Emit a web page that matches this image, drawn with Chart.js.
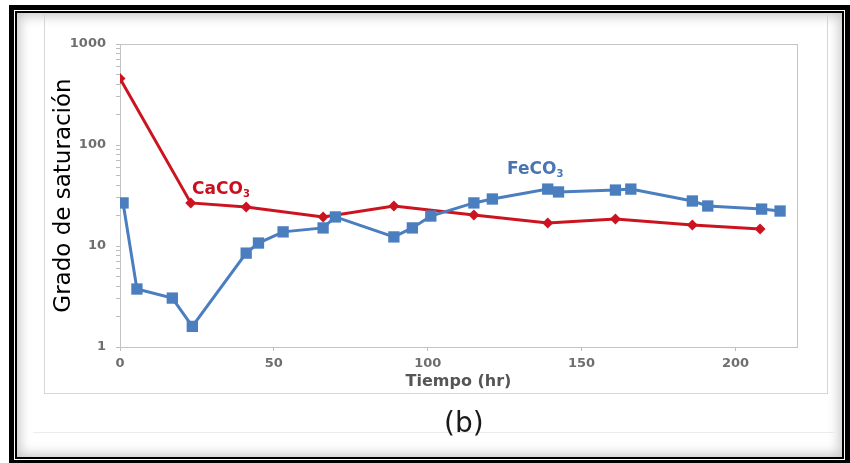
<!DOCTYPE html>
<html>
<head>
<meta charset="utf-8">
<script src="https://cdn.jsdelivr.net/npm/chart.js@4/dist/chart.umd.min.js"></script>
<style>
  html, body { margin:0; padding:0; background:#fff; width:850px; height:463px; overflow:hidden; position:relative; }
  #outer { position:absolute; left:9px; top:5px; width:841px; height:460px; box-sizing:border-box; border:5px solid #000; }
  #inner { position:absolute; left:15px; top:11px; width:829px; height:448px; box-sizing:border-box; border:2px solid #000;
           box-shadow: inset 0 0 12px 3px rgba(0,0,0,0.22); background:#fff; }
  #frame { position:absolute; left:44px; top:13px; width:784px; height:381px; box-sizing:border-box; border:1px solid #d6d6d6; }
  #hline { position:absolute; left:33px; top:432px; width:802px; height:1px; background:#ececec; }
  #ytbg { position:absolute; left:49px; top:58px; width:24px; height:256px; background:#fff; }
  canvas { position:absolute; left:0; top:0; }
  .ann { position:absolute; font-family:'DejaVu Sans'; font-weight:bold; font-size:17px; line-height:1; white-space:nowrap; }
  .ann sub { font-size:10px; vertical-align:-3px; line-height:0; }
  #ca { left:192px; top:180px; color:#c8101e; }
  #fe { left:507px; top:160px; color:#4a74b2; }
  #lab { position:absolute; left:444px; top:409px; font-family:'DejaVu Sans'; font-size:28px; line-height:1; color:#1a1a1a; }
</style>
</head>
<body>
<div id="outer"></div>
<div id="inner"></div>
<div id="frame"></div>
<div id="hline"></div>
<div id="ytbg"></div>
<canvas id="c" width="850" height="463"></canvas>
<div class="ann" id="ca">CaCO<sub>3</sub></div>
<div class="ann" id="fe">FeCO<sub>3</sub></div>
<div id="lab">(b)</div>
<script>
// ---- data ----
const timeCaCO3 = [0, 23, 41, 66, 89, 115, 139, 161, 186, 208];
const satCaCO3  = [455, 26.7, 24.3, 19.4, 24.9, 20.3, 16.9, 18.5, 16.1, 14.7];
const timeFeCO3 = [1, 5.5, 17, 23.5, 41, 45, 53, 66, 70, 89, 95, 101, 115, 121, 139, 142.5, 161, 166, 186, 191, 208.5, 214.5];
const satFeCO3  = [26.7, 3.75, 3.05, 1.6, 8.5, 10.7, 13.8, 15.1, 19.4, 12.3, 15.1, 19.8, 26.7, 29.2, 36.6, 34.3, 35.8, 36.6, 27.9, 24.9, 23.2, 22.2];
const xTickValues = [0, 50, 100, 150, 200];
const yTickLabels = [1, 10, 100, 1000];
const yMinorSteps = [2, 3, 4, 5, 6, 7, 8, 9];

const toPts = (xs, ys) => xs.map((x, i) => ({ x: x, y: ys[i] }));

const plotFrame = {
  id: 'plotFrame',
  beforeDatasetsDraw(chart) {
    const { ctx, chartArea: a } = chart;
    ctx.save();
    ctx.strokeStyle = '#c4c4c4';
    ctx.lineWidth = 1;
    ctx.strokeRect(Math.round(a.left) + 0.5, Math.round(a.top) + 0.5, Math.round(a.right - a.left), Math.round(a.bottom - a.top));
    ctx.restore();
  }
};

const tickFont = { family: 'DejaVu Sans', size: 13, weight: 'bold' };

new Chart(document.getElementById('c'), {
  type: 'line',
  data: {
    datasets: [
      {
        label: 'FeCO3',
        data: toPts(timeFeCO3, satFeCO3),
        borderColor: '#4a7ebf',
        backgroundColor: '#4a7ebf',
        borderWidth: 3,
        pointStyle: 'rect',
        pointRadius: 8,
        pointBorderWidth: 0,
        tension: 0,
        order: 1
      },
      {
        label: 'CaCO3',
        data: toPts(timeCaCO3, satCaCO3),
        borderColor: '#cc1420',
        backgroundColor: '#cc1420',
        borderWidth: 3,
        pointStyle: 'rectRot',
        pointRadius: 5.5,
        pointBorderWidth: 0,
        tension: 0,
        order: 2
      }
    ]
  },
  options: {
    responsive: false,
    animation: false,
    layout: { padding: { left: 50, top: 44, right: 53, bottom: 71.4 } },
    plugins: { legend: { display: false }, tooltip: { enabled: false } },
    scales: {
      x: {
        type: 'linear', min: 0, max: 220,
        afterFit(s) { s.height = 44.6; },
        afterBuildTicks(s) { s.ticks = xTickValues.map(v => ({ value: v })); },
        ticks: { padding: 5, color: '#6e6e6e', font: tickFont, autoSkip: false, maxRotation: 0 },
        grid: { drawOnChartArea: false, drawTicks: true, tickLength: 4, color: '#bdbdbd' },
        border: { display: false },
        title: { display: true, text: 'Tiempo (hr)', color: '#555', font: { family: 'DejaVu Sans', size: 16, weight: 'bold' }, padding: { top: 0, bottom: 0 } }
      },
      y: {
        type: 'logarithmic', min: 1, max: 1000,
        afterFit(s) { s.width = 70; },
        afterBuildTicks(s) {
          const t = [];
          yTickLabels.forEach((d, i) => {
            t.push({ value: d, major: true });
            if (i < yTickLabels.length - 1) yMinorSteps.forEach(m => t.push({ value: d * m, major: false }));
          });
          s.ticks = t;
        },
        ticks: {
          autoSkip: false, padding: 10, color: '#6e6e6e', font: tickFont,
          callback: (v) => { const f = yTickLabels.find(t => Math.abs(t - v) < 1e-6); return f !== undefined ? String(f) : ''; }
        },
        grid: { drawOnChartArea: false, drawTicks: true, tickLength: 4, color: '#bdbdbd' },
        border: { display: false },
        title: { display: true, text: 'Grado de saturación', color: '#000', font: { family: 'DejaVu Sans', size: 23 }, padding: { top: 0, bottom: 0 } }
      }
    }
  },
  plugins: [plotFrame]
});
</script>
</body>
</html>
